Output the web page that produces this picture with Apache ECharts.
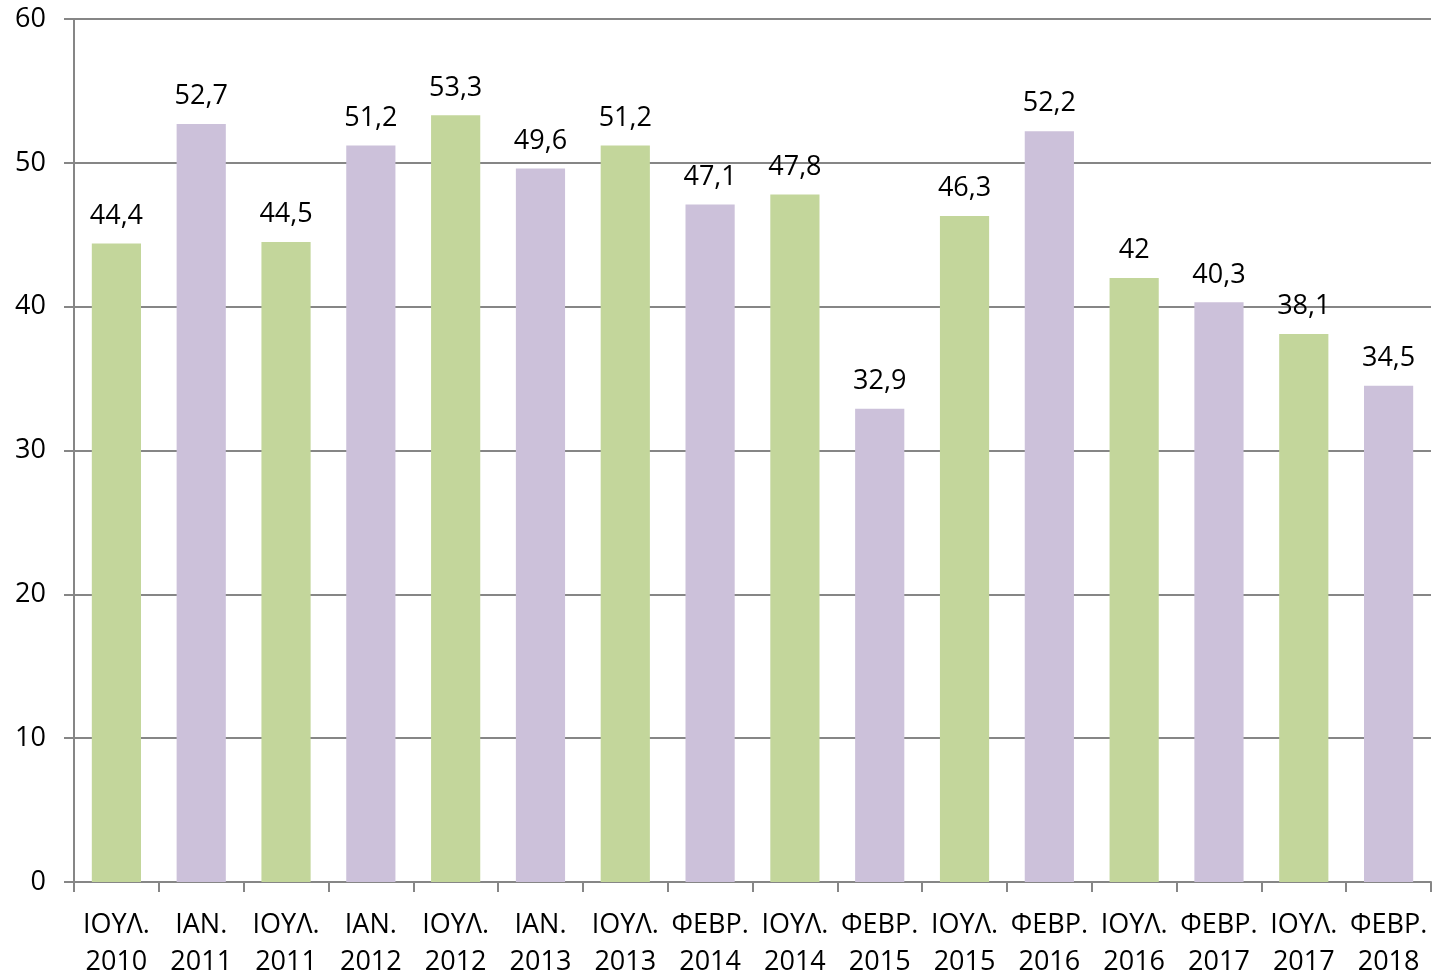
<!DOCTYPE html>
<html>
<head>
<meta charset="utf-8">
<script src="https://cdn.jsdelivr.net/npm/echarts@6/dist/echarts.min.js"></script>
<style>
  html, body { margin: 0; padding: 0; background: #fff; }
  #main { width: 1435px; height: 977px; }
</style>
</head>
<body>
<div id="main"></div>
<script>
var categories = ['ΙΟΥΛ.\n2010', 'ΙΑΝ.\n2011', 'ΙΟΥΛ.\n2011', 'ΙΑΝ.\n2012', 'ΙΟΥΛ.\n2012', 'ΙΑΝ.\n2013',
	'ΙΟΥΛ.\n2013', 'ΦΕΒΡ.\n2014', 'ΙΟΥΛ.\n2014', 'ΦΕΒΡ.\n2015', 'ΙΟΥΛ.\n2015', 'ΦΕΒΡ.\n2016',
	'ΙΟΥΛ.\n2016', 'ΦΕΒΡ.\n2017', 'ΙΟΥΛ.\n2017', 'ΦΕΒΡ.\n2018'];
var values = [44.4, 52.7, 44.5, 51.2, 53.3, 49.6, 51.2, 47.1, 47.8, 32.9, 46.3, 52.2, 42, 40.3, 38.1, 34.5];

var julyColor = '#c3d69b';   // ΙΟΥΛ.
var winterColor = '#ccc1da'; // ΙΑΝ. / ΦΕΒΡ.
var fontName = '"Open Sans", sans-serif';

var chart = echarts.init(document.getElementById('main'));

var option = {
	animation: false,
	grid: {
		left: 74,
		right: 4,
		top: 19,
		bottom: 95,
		outerBoundsMode: 'none'
	},
	xAxis: {
		type: 'category',
		data: categories,
		axisLine: { lineStyle: { color: '#868686', width: 2 } },
		axisTick: { show: true, length: 10, lineStyle: { color: '#868686', width: 2 } },
		axisLabel: {
			margin: 25,
			color: '#000',
			fontSize: 27,
			fontFamily: fontName,
			lineHeight: 37,
			interval: 0
		}
	},
	yAxis: {
		type: 'value',
		min: 0,
		max: 60,
		interval: 10,
		axisLine: { show: true, lineStyle: { color: '#868686', width: 2 } },
		axisTick: { show: true, length: 10, lineStyle: { color: '#868686', width: 2 } },
		splitLine: { lineStyle: { color: '#868686', width: 2 } },
		axisLabel: {
			margin: 28,
			color: '#000',
			fontSize: 27,
			fontFamily: fontName
		}
	},
	series: [{
		type: 'bar',
		data: values,
		barCategoryGap: '42%',
		itemStyle: {
			color: function (p) {
				return p.dataIndex % 2 === 0 ? julyColor : winterColor;
			}
		},
		label: {
			show: true,
			position: 'top',
			distance: 14,
			color: '#000',
			fontSize: 27,
			fontFamily: fontName,
			formatter: function (p) {
				return String(p.value).replace('.', ',');
			}
		}
	}]
};

chart.setOption(option);
</script>
</body>
</html>
